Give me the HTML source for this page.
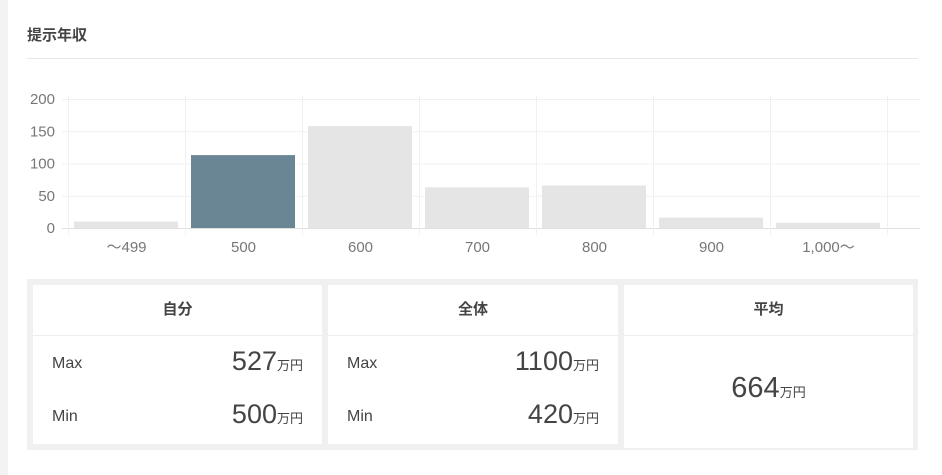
<!DOCTYPE html>
<html><head><meta charset="utf-8"><style>
body{margin:0;width:942px;height:475px;background:#f3f3f3;font-family:"Liberation Sans","Noto Sans CJK JP",sans-serif;color:#444;overflow:hidden}
.card{position:absolute;left:8px;top:0;width:934px;height:475px;background:#fff}
.title{position:absolute;left:27px;top:24px;font-size:15px;font-weight:bold;color:#444}
.rule{position:absolute;left:27px;top:58px;width:891px;height:1px;background:#e8e8e8}
.stats{position:absolute;left:27px;top:279px;width:891px;height:171px;background:#f0f0f0}
.box{position:absolute;top:6px;height:159px;background:#fff}
.hd{height:50px;border-bottom:1px solid #eee;text-align:center;line-height:50px;font-weight:bold;font-size:15px;color:#444}
.row{position:absolute;left:19px;right:19px;height:40px}
.row .l{position:absolute;left:0;bottom:9px;font-size:16px}
.row .v{position:absolute;right:0;bottom:5px;font-size:27px}
.u{font-size:13px}
</style></head><body>
<div class="card"></div>
<div class="title">提示年収</div>
<div class="rule"></div>
<svg id="chart" width="942" height="275" style="position:absolute;left:0;top:0"></svg>
<div class="stats">
 <div class="box" style="left:6px;width:289px">
  <div class="hd">自分</div>
  <div class="row" style="top:57px"><span class="l">Max</span><span class="v">527<span class="u">万円</span></span></div>
  <div class="row" style="top:110px"><span class="l">Min</span><span class="v">500<span class="u">万円</span></span></div>
 </div>
 <div class="box" style="left:301px;width:290px">
  <div class="hd">全体</div>
  <div class="row" style="top:57px"><span class="l">Max</span><span class="v">1100<span class="u">万円</span></span></div>
  <div class="row" style="top:110px"><span class="l">Min</span><span class="v">420<span class="u">万円</span></span></div>
 </div>
 <div class="box" style="left:597px;width:289px;height:163px">
  <div class="hd">平均</div>
  <div style="text-align:center;margin-top:36px;font-size:29px">664<span class="u">万円</span></div>
 </div>
</div>
<script>
const categories=["～499","500","600","700","800","900","1,000～"];
const values=[10,113,158,63,66,16,8];
const highlight=[false,true,false,false,false,false,false];
const yTicks=[0,50,100,150,200];
const svg=document.getElementById('chart');
const NS='http://www.w3.org/2000/svg';
const x0=68,cw=117,yBase=228,yTop=99,yMax=200;
const y=v=>yBase-(v/yMax)*(yBase-yTop);
const xc=i=>x0+i*cw;
function mk(t,a){const e=document.createElementNS(NS,t);for(const k in a)e.setAttribute(k,a[k]);svg.appendChild(e);return e;}
yTicks.forEach(t=>{
 const g=mk('line',{x1:62,x2:920,y1:y(t)+.5,y2:y(t)+.5,stroke:t===0?'#e0e0e0':'#f0f0f0'});
 
 
 const tx=mk('text',{x:55,y:y(t)+5,'text-anchor':'end','font-size':15,fill:'#777'});
 tx.textContent=t;
 
 
});
for(let i=0;i<=categories.length;i++){
 const l=mk('line',{x1:xc(i)+.5,x2:xc(i)+.5,y1:96,y2:235,stroke:'#f0f0f0'});
 
 
}
categories.forEach((c,i)=>{
 const r=mk('rect',{x:xc(i)+6,y:y(values[i]),width:cw-13,height:yBase-y(values[i]),fill:highlight[i]?'#6a8593':'#e5e5e5'});
 
 
 const t=mk('text',{x:xc(i)+cw/2,y:252,'text-anchor':'middle','font-size':15,fill:'#777'});
 t.textContent=c;
 
 
});
</script>
</body></html>
